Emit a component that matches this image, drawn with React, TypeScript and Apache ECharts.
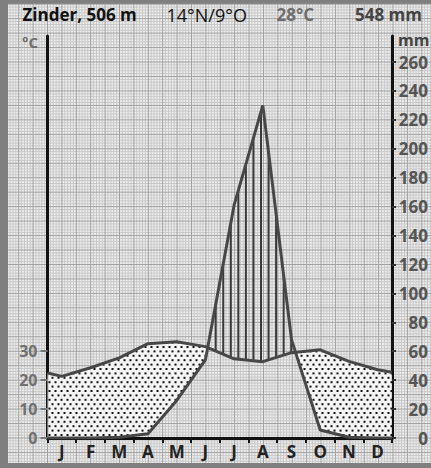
import React, { useEffect, useRef } from 'react';
import * as echarts from 'echarts';

// ---- data ----
const months = ['J', 'F', 'M', 'A', 'M', 'J', 'J', 'A', 'S', 'O', 'N', 'D'];
const temperature = [21.3, 24.3, 27.7, 32.6, 33.3, 31.6, 27.4, 26.4, 29.5, 30.5, 26.5, 23.6];
const precipitation = [0, 0, 0.5, 3, 26, 54, 161, 230, 68, 5.5, 0.5, 0];
// values where the curves meet the left (year start) and right (year end) edges
const temperatureAtEdges = [22.5, 22.7];
const precipitationAtEdges = [0, 0];
const temperatureTicks = [0, 10, 20, 30];
const precipitationTicks = [0, 20, 40, 60, 80, 100, 120, 140, 160, 180, 200, 220, 240, 260];
const stationName = 'Zinder, 506 m';
const stationCoords = '14°N/9°O';
const meanTemperature = '28°C';
const annualPrecipitation = '548 mm';

const FONT = "'Open Sans', 'Noto Sans', sans-serif";
const W = 431;
const H = 468;
const GRID = { left: 47.5, right: 38, top: 36, bottom: 30 };
const MM_MAX = 278;

const tPoints: number[][] = [
  [0, temperatureAtEdges[0]],
  ...temperature.map((t, i) => [i + 0.5, t]),
  [12, temperatureAtEdges[1]],
];
const pPoints: number[][] = [
  [0, precipitationAtEdges[0]],
  ...precipitation.map((p, i) => [i + 0.5, p]),
  [12, precipitationAtEdges[1]],
];

function pointInPoly(x: number, y: number, poly: number[][]) {
  let inside = false;
  for (let i = 0, j = poly.length - 1; i < poly.length; j = i++) {
    const xi = poly[i][0], yi = poly[i][1], xj = poly[j][0], yj = poly[j][1];
    if ((yi > y) !== (yj > y) && x < ((xj - xi) * (y - yi)) / (yj - yi) + xi) inside = !inside;
  }
  return inside;
}

function yAt(line: number[][], x: number) {
  for (let i = 0; i < line.length - 1; i++) {
    const a = line[i], b = line[i + 1];
    if (x >= a[0] && x <= b[0]) {
      const f = (x - a[0]) / (b[0] - a[0] || 1);
      return a[1] + f * (b[1] - a[1]);
    }
  }
  return NaN;
}

// polygons where `upper` lies above `lower` (pixel space, smaller y = higher)
function regions(upper: number[][], lower: number[][]) {
  const polys: number[][][] = [];
  let top: number[][] = [];
  let bot: number[][] = [];
  const n = upper.length;
  for (let i = 0; i < n; i++) {
    const d = lower[i][1] - upper[i][1];
    if (d > 0) {
      top.push(upper[i]);
      bot.push(lower[i]);
    }
    if (i < n - 1) {
      const d2 = lower[i + 1][1] - upper[i + 1][1];
      if (d > 0 !== d2 > 0) {
        const f = d / (d - d2);
        const x = upper[i][0] + f * (upper[i + 1][0] - upper[i][0]);
        const y = upper[i][1] + f * (upper[i + 1][1] - upper[i][1]);
        top.push([x, y]);
        bot.push([x, y]);
        if (d > 0) {
          polys.push(top.concat(bot.slice().reverse()));
          top = [];
          bot = [];
        }
      }
    }
  }
  if (top.length > 1) polys.push(top.concat(bot.slice().reverse()));
  return polys;
}

function paperElements() {
  const els: any[] = [];
  els.push({ type: 'rect', silent: true, z: -20, shape: { x: 0, y: 0, width: W, height: H }, style: { fill: '#7f7f7f' } });
  const px0 = 8, py0 = 4, px1 = W, py1 = 463;
  els.push({ type: 'rect', silent: true, z: -19, shape: { x: px0, y: py0, width: px1 - px0, height: py1 - py0 }, style: { fill: '#eeeeee' } });
  const dx = (W - GRID.left - GRID.right) / 120;
  const dy = (H - GRID.bottom - GRID.top) / (MM_MAX / 2);
  const x0 = GRID.left;
  const y0 = H - GRID.bottom;
  for (let k = -20; k < 200; k++) {
    const x = x0 + k * dx;
    if (x < px0 || x > px1) continue;
    const major = k % 5 === 0;
    els.push({
      type: 'line', silent: true, z: major ? -17 : -18,
      shape: { x1: x, y1: py0, x2: x, y2: py1 },
      style: { stroke: major ? '#a0a0a0' : '#c8c8c8', lineWidth: 1 },
    });
  }
  for (let k = -20; k < 200; k++) {
    const y = y0 - k * dy;
    if (y < py0 || y > py1) continue;
    const major = k % 5 === 0;
    els.push({
      type: 'line', silent: true, z: major ? -17 : -18,
      shape: { x1: px0, y1: y, x2: px1, y2: y },
      style: { stroke: major ? '#a0a0a0' : '#c8c8c8', lineWidth: 1 },
    });
  }
  return els;
}

function textEl(text: string, x: number, y: number, opts: any) {
  return {
    type: 'text', z: 50, silent: true, x, y,
    style: { text, fontFamily: FONT, verticalAlign: 'middle', ...opts },
  };
}

export default function App() {
  const ref = useRef<HTMLDivElement>(null);
  useEffect(() => {
    document.body.style.margin = '0';
    const chart = echarts.init(ref.current!, null, { renderer: 'svg' });

    const renderFills = (_params: any, api: any) => {
      const tPx = tPoints.map(([x, t]) => api.coord([x, t * 2]));
      const pPx = pPoints.map(([x, p]) => api.coord([x, p]));
      const children: any[] = [];
      // arid (temperature above precipitation): dotted
      const arid = regions(tPx, pPx);
      arid.forEach((poly) => {
        children.push({ type: 'polygon', shape: { points: poly }, style: { fill: 'rgba(250,250,250,0.85)' } });
        let minX = Infinity, maxX = -Infinity, minY = Infinity, maxY = -Infinity;
        poly.forEach(([x, y]) => {
          minX = Math.min(minX, x); maxX = Math.max(maxX, x);
          minY = Math.min(minY, y); maxY = Math.max(maxY, y);
        });
        const baseY = H - GRID.bottom - 3;
        for (let r = 0; ; r++) {
          const y = baseY - r * 4.4;
          if (y < minY) break;
          if (y > maxY) continue;
          const off = r % 2 ? 3 : 0;
          for (let x = GRID.left + 2 + off; x <= maxX; x += 6) {
            if (x < minX) continue;
            if (pointInPoly(x, y, poly)) {
              children.push({ type: 'rect', shape: { x: x - 1, y: y - 1, width: 2, height: 2 }, style: { fill: '#111' } });
            }
          }
        }
      });
      // humid (precipitation above temperature): vertical hatching
      const humid = regions(pPx, tPx);
      humid.forEach((poly) => {
        let minX = Infinity, maxX = -Infinity;
        poly.forEach(([x]) => { minX = Math.min(minX, x); maxX = Math.max(maxX, x); });
        for (let k = -40; k < 40; k++) {
          const x = 215.7 + k * 7.55;
          if (x <= minX || x >= maxX) continue;
          const yp = yAt(pPx, x);
          const yt = yAt(tPx, x);
          if (yp < yt) {
            children.push({ type: 'line', shape: { x1: x, y1: yp, x2: x, y2: yt }, style: { stroke: '#3a3a3a', lineWidth: 2 } });
          }
        }
      });
      return { type: 'group', children };
    };

    const option: any = {
      animation: false,
      backgroundColor: 'transparent',
      grid: { left: GRID.left, right: GRID.right, top: GRID.top, bottom: GRID.bottom },
      graphic: {
        elements: [
          ...paperElements(),
          textEl(stationName, 22.5, 14.5, { fontSize: 17, fontWeight: 'bold', fill: '#111' }),
          textEl(stationCoords, 166.5, 14.5, { fontSize: 18, fontWeight: 'normal', fill: '#111' }),
          textEl(meanTemperature, 276.5, 14.5, { fontSize: 17, fontWeight: 'bold', fill: '#6e6e6e' }),
          textEl(annualPrecipitation, 422, 14.5, { fontSize: 17, fontWeight: 'bold', fill: '#444', align: 'right' }),
          textEl('°C', 22, 42, { fontSize: 15, fontWeight: 'bold', fill: '#6e6e6e' }),
          textEl('mm', 398, 40, { fontSize: 16, fontWeight: 'bold', fill: '#444' }),
        ],
      },
      xAxis: [
        { type: 'value', min: 0, max: 12, show: false },
        {
          type: 'category', data: months, position: 'bottom', boundaryGap: true,
          axisLine: { show: true, onZero: false, lineStyle: { color: '#111', width: 3 } },
          axisTick: { show: true, alignWithLabel: false, length: 5, lineStyle: { color: '#111', width: 2 } },
          axisLabel: { show: true, margin: 5, fontFamily: FONT, fontSize: 17, fontWeight: 'bold', color: '#222' },
          splitLine: { show: false },
        },
      ],
      yAxis: [
        {
          type: 'value', position: 'left', min: 0, max: MM_MAX / 2,
          axisLine: { show: true, onZero: false, lineStyle: { color: '#111', width: 3 } },
          axisTick: { show: true, length: 7, customValues: temperatureTicks, lineStyle: { color: '#777', width: 2 } },
          axisLabel: { show: true, customValues: temperatureTicks, margin: 10, fontFamily: FONT, fontSize: 16, fontWeight: 'bold', color: '#707070' },
          splitLine: { show: false },
        },
        {
          type: 'value', position: 'right', min: 0, max: MM_MAX,
          axisLine: { show: true, onZero: false, lineStyle: { color: '#111', width: 3 } },
          axisTick: { show: true, length: 4, customValues: precipitationTicks, lineStyle: { color: '#333', width: 2 } },
          axisLabel: { show: true, customValues: precipitationTicks, margin: 36, align: 'right', fontFamily: FONT, fontSize: 17, fontWeight: 'bold', color: '#555' },
          splitLine: { show: false },
        },
      ],
      series: [
        {
          type: 'custom', xAxisIndex: 0, yAxisIndex: 1, z: 3, silent: true,
          renderItem: renderFills, data: [[0, 0]], clip: false,
        },
        {
          type: 'line', name: 'Temperatur', xAxisIndex: 0, yAxisIndex: 0, z: 5,
          data: tPoints, symbol: 'none', silent: true,
          lineStyle: { color: '#474747', width: 3 },
        },
        {
          type: 'line', name: 'Niederschlag', xAxisIndex: 0, yAxisIndex: 1, z: 5,
          data: pPoints, symbol: 'none', silent: true,
          lineStyle: { color: '#474747', width: 3 },
        },
      ],
    };
    chart.setOption(option);
    return () => chart.dispose();
  }, []);
  return <div ref={ref} style={{ width: W, height: H }} />;
}
